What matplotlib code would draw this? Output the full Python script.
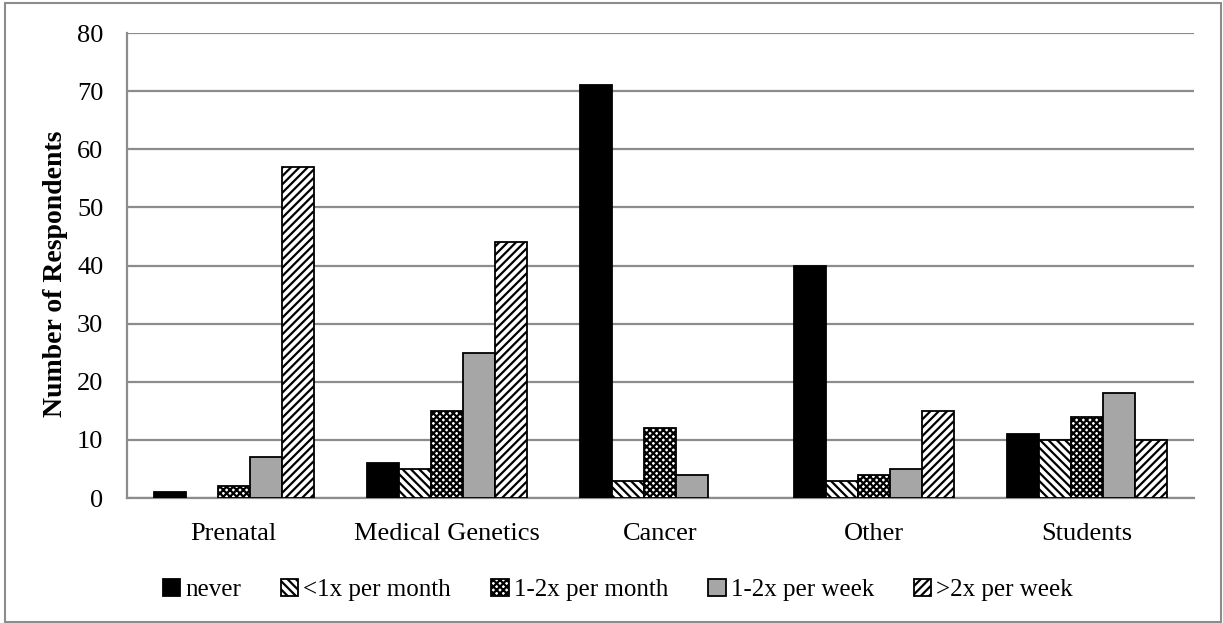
import matplotlib
matplotlib.use("Agg")
import matplotlib.pyplot as plt
import numpy as np
from matplotlib.patches import Rectangle, Patch

categories = ["Prenatal", "Medical Genetics", "Cancer", "Other", "Students"]
series = ["never", "<1x per month", "1-2x per month", "1-2x per week", ">2x per week"]
never = [1, 6, 71, 40, 11]
lt_month = [0, 5, 3, 3, 10]
per_month = [2, 15, 12, 4, 14]
per_week = [7, 25, 4, 5, 18]
gt_week = [57, 44, 0, 15, 10]

plt.rcParams["font.family"] = ["Liberation Serif", "DejaVu Serif"]
plt.rcParams["hatch.linewidth"] = 1.6

styles = [
    dict(color="black", hatch=None),
    dict(color="white", hatch="\\\\\\\\"),
    dict(color="white", hatch="xxxxx"),
    dict(color="#a6a6a6", hatch=None),
    dict(color="white", hatch="////"),
]

fig = plt.figure(figsize=(12.23, 6.23), dpi=100)
ax = fig.add_axes([0.1038, 0.2006, 0.8725, 0.7464])

x = np.arange(len(categories))
w = 0.15
handles = []
for i, (name, vals) in enumerate(zip(series, [never, lt_month, per_month, per_week, gt_week])):
    st = styles[i]
    bars = ax.bar(x + (i - 2) * w, vals, w, color=st["color"],
                  hatch=st["hatch"], edgecolor="black", linewidth=1.3, zorder=3)
    for b, v in zip(bars, vals):
        if v == 0:
            b.set_visible(False)   # empty categories show no outline
    handles.append(Patch(facecolor=st["color"], hatch=st["hatch"],
                         edgecolor="black", linewidth=1.3, label=name))

ax.set_xlim(-0.5, len(categories) - 0.5)
ax.set_ylim(0, 80)
ax.set_yticks(range(0, 81, 10))
ax.yaxis.grid(True, color="#8c8c8c", linewidth=1.6, zorder=0)
ax.set_axisbelow(True)
ax.set_xticks(x)
ax.set_xticklabels(categories, fontsize=19)
ax.tick_params(axis="y", labelsize=19, length=0, pad=17)
ax.tick_params(axis="x", length=0, pad=18)
for s in ["top", "right"]:
    ax.spines[s].set_visible(False)
for s in ["left", "bottom"]:
    ax.spines[s].set_color("#8c8c8c")
    ax.spines[s].set_linewidth(1.6)

# y label placed to match the reference
fig.text(55 / 1223, 1 - 274 / 623, "Number of Respondents", rotation=90,
         ha="center", va="center", fontsize=20, fontweight="bold")

ax.legend(handles=handles, loc="upper center", bbox_to_anchor=(0.46, -0.125), ncol=5,
          frameon=False, fontsize=18, handlelength=0.7, handleheight=0.7,
          handletextpad=0.2, columnspacing=1.6)

fig.patches.append(Rectangle((0.004, 0.002), 0.994, 0.993, transform=fig.transFigure,
                             fill=False, edgecolor="#8c8c8c", linewidth=1.5))

fig.savefig("out.png", dpi=100)
